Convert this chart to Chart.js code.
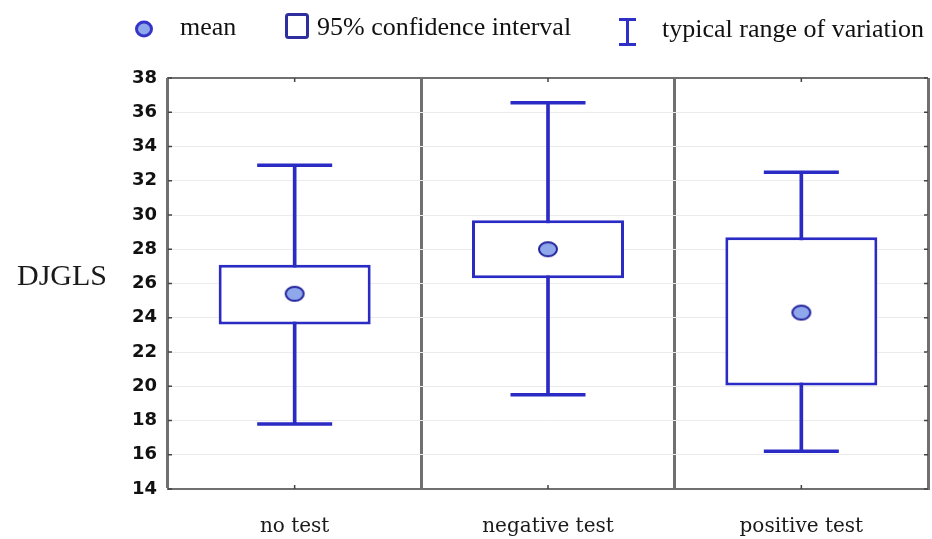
<!DOCTYPE html>
<html>
<head>
<meta charset="utf-8">
<script src="https://cdn.jsdelivr.net/npm/chart.js@4/dist/chart.umd.min.js"></script>
<style>
  html, body { margin: 0; padding: 0; background: #fff; }
  #wrap { position: relative; width: 932px; height: 539px; }
  #legend span { position: absolute; font: 26px "Liberation Serif", "Times New Roman", serif; line-height: 1; color: #111; white-space: nowrap; }
  #legend svg { position: absolute; }
</style>
</head>
<body>
<div id="wrap">
  <canvas id="diagram" width="932" height="539"></canvas>
  <div id="legend">
    <svg style="left:134px;top:20px" width="20" height="18"><ellipse cx="10" cy="9" rx="7.5" ry="7" fill="#8fa8ec" stroke="#3535c8" stroke-width="3"/></svg>
    <span style="left:180px;top:14px">mean</span>
    <svg style="left:285px;top:13px" width="24" height="26"><rect x="1.5" y="1.5" width="21" height="23" rx="2" fill="#fff" stroke="#2e2e9e" stroke-width="3"/></svg>
    <span style="left:317px;top:14px">95% confidence interval</span>
    <svg style="left:617px;top:17px" width="21" height="30"><path d="M2 2.5H19M10.5 2.5V27.5M2 27.5H19" stroke="#3030c8" stroke-width="3" fill="none"/></svg>
    <span style="left:662px;top:16px">typical range of variation</span>
  </div>
</div>
<script>
// categories and values
let categories = ['no test', 'negative test', 'positive test'];
let means      = [25.4, 28.0, 24.3];
let ciLow      = [23.6, 26.3, 20.05];
let ciHigh     = [27.1, 29.7, 28.7];
let rangeLow   = [17.8, 19.5, 16.2];
let rangeHigh  = [32.9, 36.55, 32.5];
let yTicks     = [14, 16, 18, 20, 22, 24, 26, 28, 30, 32, 34, 36, 38];

let blue = '#2a2ac4';
let gray = '#707070';

// oval marker for the mean
let meanMarker = document.createElement('canvas');
meanMarker.width = 22;
meanMarker.height = 18;
let mctx = meanMarker.getContext('2d');
mctx.beginPath();
mctx.ellipse(11, 9, 9, 7, 0, 0, Math.PI * 2);
mctx.fillStyle = '#8fa8ec';
mctx.fill();
mctx.lineWidth = 2;
mctx.strokeStyle = '#23239c';
mctx.stroke();

// horizontal y axis title, top border and small inside ticks
let frame = {
    id: 'frame',
    beforeDatasetsDraw(chart) {
        let ctx = chart.ctx;
        let a = chart.chartArea;
        let x = chart.scales.x;
        let y = chart.scales.y;
        ctx.save();
        ctx.strokeStyle = gray;
        ctx.lineWidth = 2;
        ctx.beginPath();
        ctx.moveTo(a.left, a.top);
        ctx.lineTo(a.right, a.top);
        ctx.stroke();

        ctx.strokeStyle = '#444';
        ctx.lineWidth = 1.5;
        ctx.beginPath();
        yTicks.forEach(v => {
            let py = y.getPixelForValue(v);
            ctx.moveTo(a.left, py);
            ctx.lineTo(a.left + 4, py);
            ctx.moveTo(a.right, py);
            ctx.lineTo(a.right - 4, py);
        });
        categories.forEach((c, i) => {
            let px = x.getPixelForValue(i);
            ctx.moveTo(px, a.bottom);
            ctx.lineTo(px, a.bottom - 4);
            ctx.moveTo(px, a.top);
            ctx.lineTo(px, a.top + 4);
        });
        ctx.stroke();
        ctx.restore();
    },
    afterDraw(chart) {
        let ctx = chart.ctx;
        ctx.save();
        ctx.font = '30px "Liberation Serif", "Times New Roman", serif';
        ctx.fillStyle = '#1a1a1a';
        ctx.textBaseline = 'alphabetic';
        ctx.fillText('DJGLS', 17, 285);
        ctx.restore();
    }
};

let chart = new Chart(document.getElementById('diagram'), {
    data: {
        labels: categories,
        datasets: [
            {
                type: 'line', label: 'mean', data: means, order: 0,
                showLine: false, pointStyle: meanMarker, pointRadius: 9
            },
            {
                type: 'line', label: 'upper', data: rangeHigh, order: 1,
                showLine: false, pointStyle: 'line', pointRadius: 37.5,
                pointBorderColor: blue, pointBorderWidth: 3.5
            },
            {
                type: 'line', label: 'lower', data: rangeLow, order: 1,
                showLine: false, pointStyle: 'line', pointRadius: 37.5,
                pointBorderColor: blue, pointBorderWidth: 3.5
            },
            {
                type: 'bar', label: 'ci', order: 2, grouped: false,
                data: ciLow.map((v, i) => [v, ciHigh[i]]),
                backgroundColor: '#ffffff', borderColor: blue, borderWidth: 3,
                borderSkipped: false, barPercentage: 0.6, categoryPercentage: 1
            },
            {
                type: 'bar', label: 'range', order: 3, grouped: false,
                data: rangeLow.map((v, i) => [v, rangeHigh[i]]),
                backgroundColor: blue, borderWidth: 0, barThickness: 3
            }
        ]
    },
    options: {
        responsive: false,
        animation: false,
        layout: { autoPadding: false, padding: { left: 108, top: 78, right: 4, bottom: 0 } },
        plugins: { legend: { display: false }, tooltip: { enabled: false } },
        scales: {
            x: {
                type: 'category',
                offset: true,
                grid: { offset: true, color: gray, lineWidth: 3, drawTicks: false },
                border: { display: true, color: gray, width: 2 },
                ticks: {
                    padding: 26, color: '#1a1a1a',
                    font: { family: '"DejaVu Serif", serif', size: 20 }
                },
                afterFit(s) { s.height = 50; s.paddingLeft = 0; s.paddingRight = 0; }
            },
            y: {
                min: 14, max: 38,
                afterBuildTicks(s) { s.ticks = yTicks.map(v => ({ value: v })); },
                grid: { color: '#ececec', lineWidth: 1, drawTicks: false },
                border: { display: true, color: gray, width: 2 },
                ticks: {
                    padding: 11, color: '#111',
                    font: { family: '"DejaVu Sans", sans-serif', size: 18, weight: 'bold' }
                },
                afterFit(s) { s.width = 60; s.paddingTop = 0; s.paddingBottom = 0; }
            }
        }
    },
    plugins: [frame]
});
</script>
</body>
</html>
